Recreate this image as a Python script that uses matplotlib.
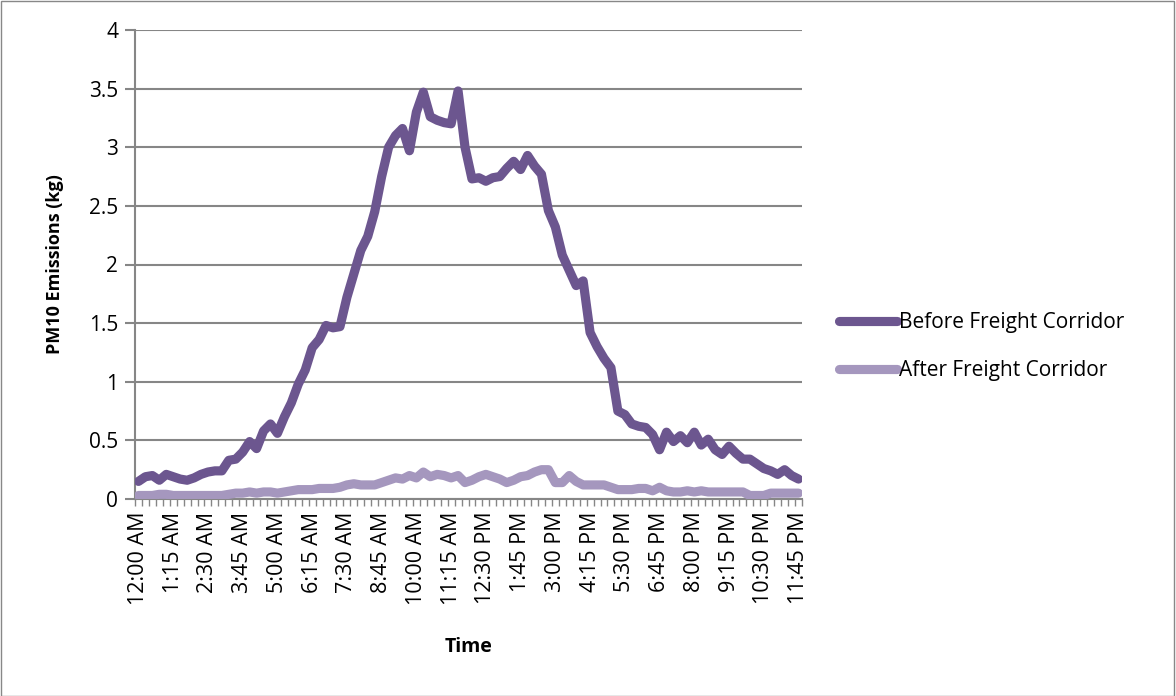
import numpy as np
import matplotlib.pyplot as plt
from matplotlib.patches import Rectangle

plt.rcParams['font.family'] = ['Open Sans', 'DejaVu Sans']

# 15-minute intervals, 12:00 AM .. 11:45 PM
times = []
for h in range(24):
    for m in (0, 15, 30, 45):
        hh = h % 12 or 12
        times.append("%d:%02d %s" % (hh, m, "AM" if h < 12 else "PM"))

before = [0.15, 0.19, 0.20, 0.16, 0.21, 0.19, 0.17, 0.16, 0.18, 0.21,
          0.23, 0.24, 0.24, 0.33, 0.34, 0.40, 0.49, 0.43, 0.58, 0.64,
          0.56, 0.70, 0.82, 0.98, 1.10, 1.29, 1.36, 1.48, 1.46, 1.47,
          1.72, 1.92, 2.12, 2.24, 2.45, 2.75, 3.00, 3.10, 3.16, 2.97,
          3.30, 3.47, 3.26, 3.23, 3.21, 3.20, 3.48, 3.00, 2.73, 2.74,
          2.71, 2.74, 2.75, 2.82, 2.88, 2.81, 2.93, 2.84, 2.77, 2.46,
          2.32, 2.08, 1.95, 1.82, 1.86, 1.42, 1.30, 1.20, 1.12, 0.75,
          0.72, 0.64, 0.62, 0.61, 0.55, 0.42, 0.57, 0.49, 0.54, 0.48,
          0.57, 0.46, 0.51, 0.42, 0.38, 0.45, 0.39, 0.34, 0.34, 0.30,
          0.26, 0.24, 0.21, 0.25, 0.20, 0.17]

after = [0.03, 0.03, 0.03, 0.04, 0.04, 0.03, 0.03, 0.03, 0.03, 0.03,
         0.03, 0.03, 0.03, 0.04, 0.05, 0.05, 0.06, 0.05, 0.06, 0.06,
         0.05, 0.06, 0.07, 0.08, 0.08, 0.08, 0.09, 0.09, 0.09, 0.10,
         0.12, 0.13, 0.12, 0.12, 0.12, 0.14, 0.16, 0.18, 0.17, 0.20,
         0.18, 0.23, 0.19, 0.21, 0.20, 0.18, 0.20, 0.14, 0.16, 0.19,
         0.21, 0.19, 0.17, 0.14, 0.16, 0.19, 0.20, 0.23, 0.25, 0.25,
         0.14, 0.14, 0.20, 0.15, 0.12, 0.12, 0.12, 0.12, 0.10, 0.08,
         0.08, 0.08, 0.09, 0.09, 0.07, 0.10, 0.07, 0.06, 0.06, 0.07,
         0.06, 0.07, 0.06, 0.06, 0.06, 0.06, 0.06, 0.06, 0.03, 0.03,
         0.03, 0.05, 0.05, 0.05, 0.05, 0.05]

yticks = [0, 0.5, 1, 1.5, 2, 2.5, 3, 3.5, 4]
ytick_labels = ['0', '0.5', '1', '1.5', '2', '2.5', '3', '3.5', '4']

grid_c = '#868686'
x = np.arange(len(times))

fig = plt.figure(figsize=(11.76, 6.96), dpi=100)
fig.patches.append(Rectangle((0.0005, 0.0007), 0.998, 0.998, transform=fig.transFigure,
                             fill=False, edgecolor='#888888', linewidth=1))
ax = fig.add_axes([135 / 1176, 1 - 499 / 696, 667 / 1176, 469 / 696])

ax.plot(x, before, color='#6C568F', lw=6.6, solid_joinstyle='round',
        solid_capstyle='round', label='Before Freight Corridor', zorder=3)
ax.plot(x, after, color='#A597BE', lw=6.6, solid_joinstyle='round',
        solid_capstyle='round', label='After Freight Corridor', zorder=3)

ax.set_xlim(-0.5, len(times) - 0.5)
ax.set_ylim(0, 4)
ax.set_yticks(yticks)
ax.set_yticklabels(ytick_labels, fontsize=15)
ax.yaxis.grid(True, color=grid_c, lw=1.5)
ax.set_axisbelow(True)

# tick marks at category boundaries, labels every 5th category
ax.set_xticks(np.arange(len(times) + 1) - 0.5)
ax.set_xticklabels([])
ax.set_xticks(x[::5], minor=True)
ax.set_xticklabels(times[::5], minor=True, rotation=90, fontsize=15.5)
ax.tick_params(axis='x', which='major', length=5, width=1, color=grid_c, direction='out')
ax.tick_params(axis='x', which='minor', length=0, pad=9)
ax.tick_params(axis='y', length=7, width=1.5, color=grid_c, pad=5)

for s in ('top', 'right'):
    ax.spines[s].set_visible(False)
for s in ('left', 'bottom'):
    ax.spines[s].set_color(grid_c)
    ax.spines[s].set_linewidth(1.5)

ax.set_ylabel('PM10 Emissions (kg)', fontsize=13, fontweight='bold', va='center')
ax.yaxis.set_label_coords(-80 / 667, 0.5)
ax.set_xlabel('Time', fontsize=14, fontweight='bold', va='center')
ax.xaxis.set_label_coords(0.5, -148 / 469)

ax.legend(loc='center left', bbox_to_anchor=(829 / 1176, 1 - 346.5 / 696),
          bbox_transform=fig.transFigure, frameon=False, fontsize=15, borderpad=0,
          handlelength=2.75, handletextpad=0.1, labelspacing=1.3)

fig.savefig('out.png', dpi=100)
